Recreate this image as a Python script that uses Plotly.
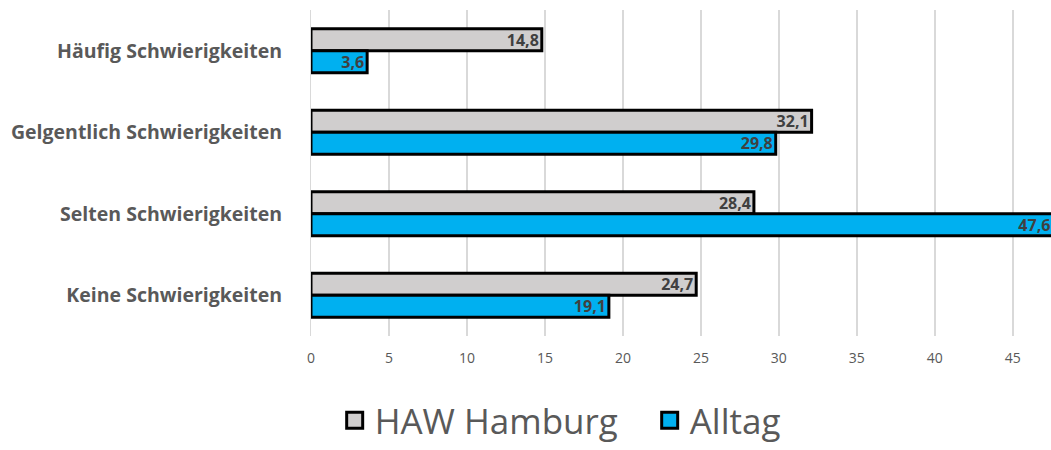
import plotly.graph_objects as go

categories = ["Häufig Schwierigkeiten", "Gelgentlich Schwierigkeiten", "Selten Schwierigkeiten", "Keine Schwierigkeiten"]
haw = [14.8, 32.1, 28.4, 24.7]
alltag = [3.6, 29.8, 47.6, 19.1]
tick_vals = [0, 5, 10, 15, 20, 25, 30, 35, 40, 45]
series = [("HAW Hamburg", haw, "#D0CECE"), ("Alltag", alltag, "#00B0F0")]

fig = go.Figure()
for name, vals, col in series:
    fig.add_trace(go.Bar(
        y=categories, x=vals, orientation="h", name=name, showlegend=False,
        marker=dict(color=col, line=dict(color="#000000", width=3)),
        texttemplate="%{x:.1f}", textposition="inside", insidetextanchor="end",
        textfont=dict(family="Open Sans", size=16, color="#404040", weight="bold"),
        constraintext="none",
    ))
for name, vals, col in series:
    fig.add_trace(go.Scatter(
        x=[None], y=[None], mode="markers", name=name, showlegend=True,
        marker=dict(symbol="square", size=16, color=col, line=dict(color="#000000", width=3)),
    ))

fig.update_layout(
    width=1051, height=450,
    margin=dict(l=311, r=0, t=10, b=107),
    paper_bgcolor="white", plot_bgcolor="white",
    barmode="group", bargap=0.46, bargroupgap=0,
    separators=",.",
    font=dict(family="Open Sans", color="#595959"),
    xaxis=dict(range=[0, 47.45], tickvals=tick_vals, showgrid=True, gridcolor="#D9D9D9",
               gridwidth=1.5, zeroline=False, showline=False,
               tickfont=dict(size=14, color="#595959"), ticklabelstandoff=12),
    yaxis=dict(autorange="reversed", showgrid=False, zeroline=False,
               showline=True, linecolor="#D9D9D9", linewidth=1,
               tickfont=dict(size=19.5, color="#595959", weight="bold"), ticklabelstandoff=24),
    legend=dict(orientation="h", x=0.032, xanchor="left", y=-0.26, yanchor="middle",
                font=dict(size=35, color="#595959"), itemwidth=30, itemsizing="trace",
                entrywidth=270),
    showlegend=True,
)

fig.write_html("out.html")
